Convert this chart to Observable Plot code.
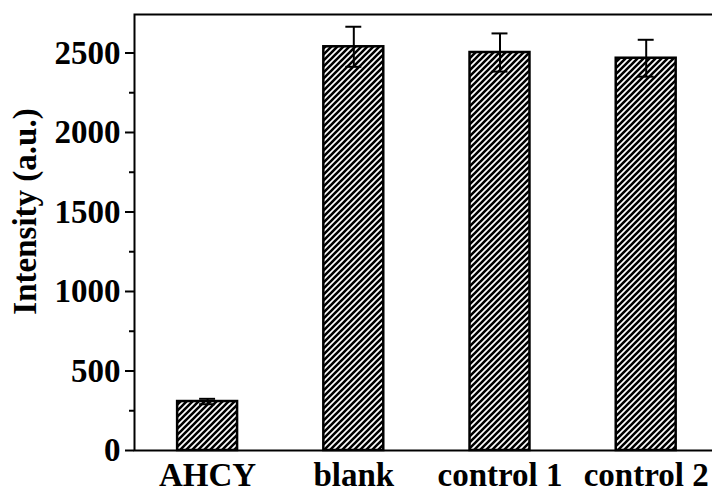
<!DOCTYPE html>
<html><head><meta charset="utf-8">
<script src="https://cdn.jsdelivr.net/npm/d3@7"></script>
<script src="https://cdn.jsdelivr.net/npm/@observablehq/plot@0.6"></script>
<style>body{margin:0;background:#fff}</style>
</head><body><div id="chart"></div>
<script>
const categories = ["AHCY", "blank", "control 1", "control 2"];
const values = [308, 2539, 2503, 2467];
const errors = [17, 126, 120, 116];
const majorTicks = [0, 500, 1000, 1500, 2000, 2500];
const minorTicks = [250, 750, 1250, 1750, 2250];
const yLabel = "Intensity (a.u.)";

const data = categories.map((c, i) => ({category: c, value: values[i], error: errors[i]}));
const font = "'Liberation Serif', 'Times New Roman', serif";

const plot = Plot.plot({
  width: 712, height: 490,
  marginTop: 14, marginBottom: 40, marginLeft: 134, marginRight: -3,
  style: {background: "#fff", fontFamily: font, color: "#000"},
  x: {type: "band", domain: categories, range: [134, 718.8], paddingInner: 0.59, paddingOuter: 0.295, round: false},
  y: {domain: [0, 2742]},
  marks: [
    Plot.barY(data, {x: "category", y: "value", fill: "url(#hatch)", stroke: "#000", strokeWidth: 2.5}),
    Plot.ruleX(data, {x: "category", y1: d => d.value - d.error, y2: d => d.value + d.error, stroke: "#000", strokeWidth: 2}),
    Plot.tickY(data, {x: "category", y: d => d.value + d.error, insetLeft: 22, insetRight: 22, stroke: "#000", strokeWidth: 2}),
    Plot.tickY(data, {x: "category", y: d => d.value - d.error, insetLeft: 22, insetRight: 22, stroke: "#000", strokeWidth: 2}),
    Plot.frame({stroke: "#000", strokeWidth: 2}),
    Plot.axisY(majorTicks, {tickSize: 9, tickPadding: 5, tickFormat: d3.format("d"), fontSize: 33, fontWeight: "bold", strokeWidth: 2, label: null}),
    Plot.axisY(minorTicks, {tickSize: 5, tickFormat: () => "", strokeWidth: 2, label: null}),
    Plot.axisX({tickSize: 0, tickPadding: 12, fontSize: 33, fontWeight: "bold", label: null}),
    Plot.text([yLabel], {frameAnchor: "left", textAnchor: "middle", rotate: -90, dx: -109, dy: -21, fontSize: 33, fontWeight: "bold", fill: "#000"})
  ]
});

const svg = plot.tagName.toLowerCase() === "svg" ? plot : plot.querySelector("svg");
const defs = document.createElementNS("http://www.w3.org/2000/svg", "defs");
defs.innerHTML = '<pattern id="hatch" patternUnits="userSpaceOnUse" width="6" height="6">' +
  '<rect width="6" height="6" fill="#fff"/>' +
  '<path d="M-1,1 L1,-1 M0,6 L6,0 M5,7 L7,5" stroke="#000" stroke-width="2.6"/></pattern>';
svg.insertBefore(defs, svg.firstChild);
document.getElementById("chart").appendChild(plot);
</script>
</body></html>
